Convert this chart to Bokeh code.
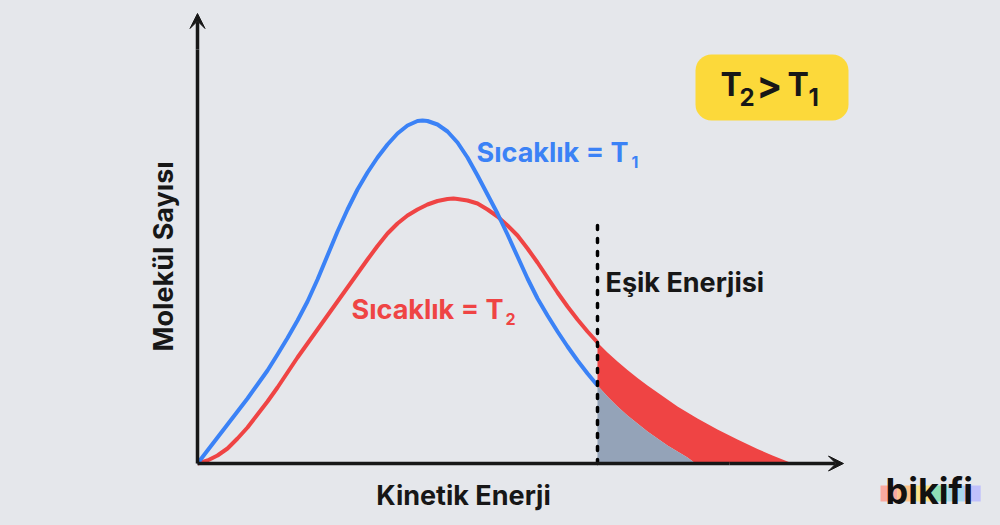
from bokeh.plotting import figure
from bokeh.models import Range1d, Arrow, VeeHead, Label, BoxAnnotation, FixedTicker
from bokeh.embed import file_html
from bokeh.resources import INLINE

BG = "#e5e7eb"
INK = "#171717"
BLUE = "#3b82f6"
RED = "#ef4444"
GREY = "#94a3b8"
FONT = "Inter"

# Curves (kinetic energy, molecule count)
t1_energy = [0, 10, 20, 30, 40, 50, 60, 70, 80, 90, 100, 110, 120, 130, 140, 150, 160, 170, 180, 190, 200, 210, 220, 225, 230,
             240, 250, 260, 270, 280, 290, 300, 310, 320, 330, 340, 350, 360, 370, 380, 390, 400, 410, 420, 430, 440, 450,
             460, 470, 480, 490, 498]
t1_count = [0, 13, 26, 39, 52, 65, 79, 93, 109, 125.5, 143, 162, 184, 208, 232, 254, 274, 291, 306, 319, 330, 338, 342.5, 343, 342.5,
            339, 332, 321, 306, 288, 269, 250, 229, 207, 185, 165, 148, 132, 117, 103, 90, 78, 67, 57, 48, 40, 32,
            25, 18, 12, 6, 0]
t2_energy = [0, 10, 20, 30, 40, 50, 60, 70, 80, 90, 100, 110, 120, 130, 140, 150, 160, 170, 180, 190, 200, 210, 220, 230, 240,
             250, 256, 260, 270, 280, 290, 300, 310, 320, 330, 340, 350, 360, 370, 380, 390, 400, 410, 420, 430, 440, 450,
             460, 480, 500, 520, 540, 560, 575, 595]
t2_count = [0, 3, 8, 15, 25, 36, 49, 62, 76, 91, 106, 120, 134, 148, 162, 176, 190, 204, 217.5, 230, 240, 248, 254, 259, 262.5,
            264.5, 265, 264.5, 263, 260, 254, 247, 238, 228, 215, 201, 186, 171, 157, 144, 132, 121, 111, 102, 93.5, 85.5, 78,
            71, 57, 45, 34, 24, 14.5, 8, 0]
threshold = 400
threshold_top = 241

x_label = "Kinetik Enerji"
y_label = "Molekül Sayısı"

tail1 = [(e, c) for e, c in zip(t1_energy, t1_count) if e >= threshold]
tail2 = [(e, c) for e, c in zip(t2_energy, t2_count) if e >= threshold]
head1 = [(e, c) for e, c in zip(t1_energy, t1_count) if e <= threshold]

p = figure(width=1000, height=525, output_backend="svg", toolbar_location=None,
           x_range=Range1d(-197, 803), y_range=Range1d(-62, 463),
           min_border_left=0, min_border_right=0, min_border_top=0, min_border_bottom=0,
           background_fill_color=BG, border_fill_color=BG, outline_line_color=None)
p.grid.visible = False

for ax, label, bound in ((p.xaxis[0], x_label, (0, 532)), (p.yaxis[0], y_label, (0, 414))):
    ax.fixed_location = 0
    ax.ticker = FixedTicker(ticks=[])
    ax.axis_label = label
    ax.axis_label_text_font = FONT
    ax.axis_label_text_font_style = "bold"
    ax.axis_label_text_font_size = "27px"
    ax.axis_label_text_color = INK
    ax.axis_line_color = INK
    ax.axis_line_width = 3.5
    ax.major_tick_line_color = None
    ax.minor_tick_line_color = None
    ax.major_label_text_color = None
    ax.bounds = bound
p.xaxis[0].axis_label_standoff = 15
p.yaxis[0].axis_label_standoff = 18

p.patch([e for e, _ in tail2] + [e for e, _ in reversed(tail1)],
        [c for _, c in tail2] + [c for _, c in reversed(tail1)],
        fill_color=RED, line_color=None)
p.patch([threshold] + [e for e, _ in tail1], [0] + [c for _, c in tail1],
        fill_color=GREY, line_color=None)
p.line(t2_energy[:t2_energy.index(threshold) + 1], t2_count[:t2_energy.index(threshold) + 1],
       line_color=RED, line_width=4, line_join="round")
p.line([e for e, _ in head1], [c for _, c in head1], line_color=BLUE, line_width=4, line_join="round")
p.line([threshold, threshold], [0, threshold_top], line_color="#000000", line_width=3.5,
       line_dash="4 9", line_cap="round")

p.add_layout(Arrow(end=VeeHead(size=15, fill_color=INK, line_color=INK), x_start=532, y_start=0, x_end=646, y_end=0,
                   line_color=INK, line_width=3.5))
p.add_layout(Arrow(end=VeeHead(size=15, fill_color=INK, line_color=INK), x_start=0, y_start=414, x_end=0, y_end=450,
                   line_color=INK, line_width=3.5))

def text(px, py, s, color, size):
    # Bokeh's Label sits about a third of an em below the requested baseline
    p.add_layout(Label(x=px - 197, y=463 - (py - 0.34 * size), text=s, text_color=color,
                       text_font=FONT, text_font_style="bold", text_font_size=f"{size}px",
                       text_baseline="alphabetic", text_align="left"))

def boxa(l, r, t, b, color, radius=0):
    p.add_layout(BoxAnnotation(left=l - 197, right=r - 197, top=463 - t, bottom=463 - b,
                               fill_color=color, fill_alpha=1, line_color=None, border_radius=radius))

text(476, 161, "Sıcaklık = T", BLUE, 27)
text(631, 167, "1", BLUE, 16)
text(351, 318, "Sıcaklık = T", RED, 27)
text(505, 324, "2", RED, 16)
text(605, 291, "Eşik Enerjisi", INK, 27)

boxa(695, 848, 54, 120, "#fcd93a", 16)
text(720, 95, "T", INK, 32)
text(739, 105, "2", INK, 24)
text(756, 97, ">", INK, 38)
text(787, 95, "T", INK, 32)
text(808, 105, "1", INK, 24)

for i, c in enumerate(["#f9a9a0", "#fcc28a", "#fbe38a", "#8fdfb5", "#a8d8ee", "#c0c0fb"]):
    boxa(880 + i * 16.7, 880 + (i + 1) * 16.7, 485, 501, c)
text(885, 503, "bikifi", "#111111", 36)

html = file_html(p, INLINE).replace("<head>", f"<head><style>html,body{{background:{BG};}}</style>", 1)
open("out.html", "w").write(html)
